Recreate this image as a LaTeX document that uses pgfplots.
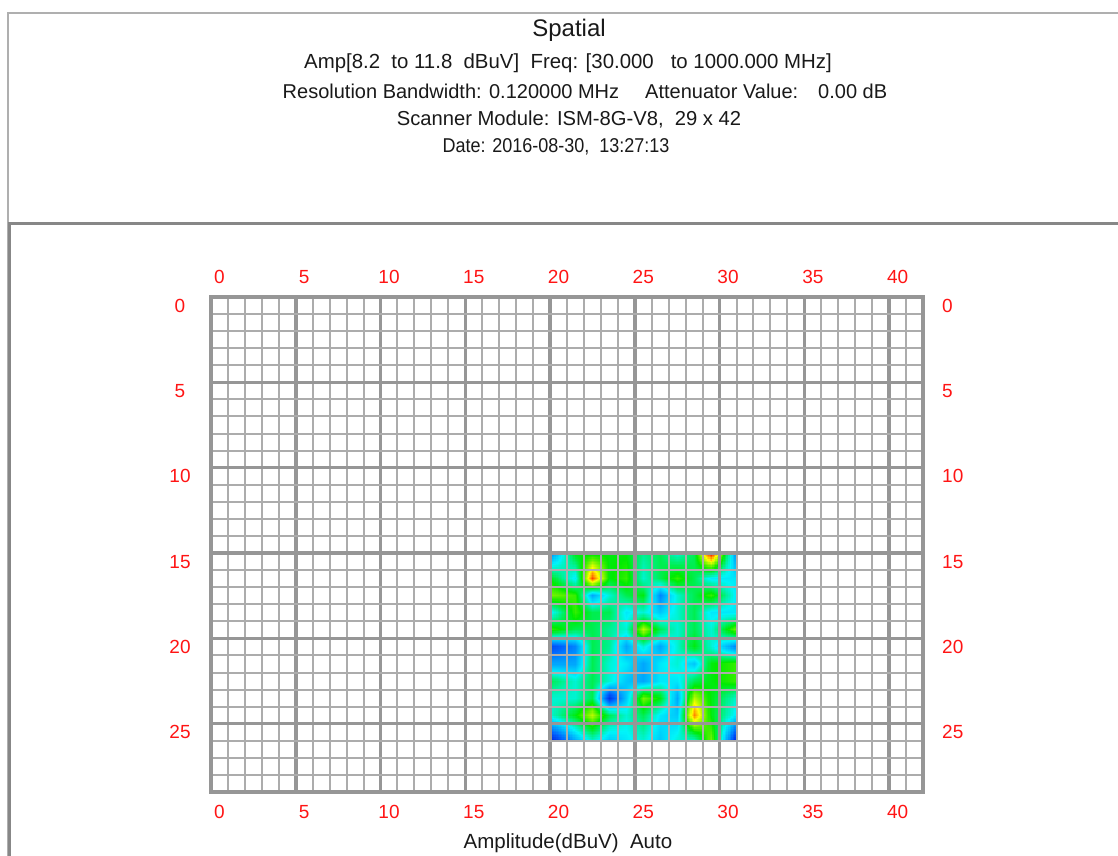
\documentclass[border=0pt]{standalone}
\usepackage{pgfplots}
\pgfplotsset{compat=1.18}
\usepgfplotslibrary{patchplots}
\usepackage{fontspec}
\setmainfont{Liberation Sans}
\definecolor{gthin}{RGB}{172,172,172}
\definecolor{gthick}{RGB}{150,150,150}
\definecolor{frameA}{RGB}{175,175,175}
\definecolor{frameB}{RGB}{135,135,135}
\definecolor{txt}{RGB}{25,25,25}
\definecolor{lab}{RGB}{255,20,20}
\begin{document}
\begin{tikzpicture}[x=1bp,y=1bp]
\path[use as bounding box] (0,0) rectangle (1118,856);
% frames
\draw[frameA, line width=2bp] (8,0) -- (8,843) -- (1118,843);
\draw[frameB, line width=3bp] (9.5,0) -- (9.5,632) -- (1118,632);
% titles
\node[txt, font=\fontsize{24bp}{26bp}\selectfont] at (569,826) {Spatial};
\node[txt, font=\fontsize{20.4bp}{22bp}\selectfont] at (568,793) {Amp[8.2~~to 11.8~~dBuV]~~Freq: [30.000~~~to 1000.000 MHz]};
\node[txt, font=\fontsize{20bp}{22bp}\selectfont] at (585,765) {Resolution Bandwidth: 0.120000 MHz\hspace{26bp}Attenuator Value:\hspace{20bp}0.00 dB};
\node[txt, font=\fontsize{20.2bp}{22bp}\selectfont] at (569,737) {Scanner Module: ISM-8G-V8,~~29 x 42};
\node[txt, font=\fontsize{20bp}{22bp}\selectfont, xscale=0.9] at (556,709) {Date: 2016-08-30,~~13:27:13};
\node[txt, font=\fontsize{20.5bp}{22bp}\selectfont] at (568,13) {Amplitude(dBuV)~~Auto};
% heat map + grid
\begin{axis}[at={(211bp,64bp)}, anchor=south west, scale only axis,
  width=712bp, height=495bp,
  xmin=0, xmax=42, ymin=0, ymax=29, y dir=reverse,
  xtick={5,10,...,40}, ytick={5,10,...,25},
  minor xtick={0,...,42}, minor ytick={0,...,29},
  xticklabels={}, yticklabels={},
  major tick length=0pt, minor tick length=0pt,
  grid=both,
  major grid style={line width=3.5bp, gthick},
  minor grid style={line width=2bp, gthin},
  axis line style={line width=3.5bp, gthick},
  axis on top,
  colormap={spat}{rgb255(0cm)=(0,0,205) rgb255(2cm)=(0,100,255) rgb255(4.2cm)=(0,245,250) rgb255(6.1cm)=(0,235,0) rgb255(8cm)=(255,255,0) rgb255(10cm)=(255,0,0)},
  point meta min=8.2, point meta max=11.8]
\addplot[surf, shader=interp, patch type=bilinear, mesh/cols=11, point meta=explicit]
  table[row sep=\\,
    x expr={ifthenelse(mod(\coordindex,11)==0,20,ifthenelse(mod(\coordindex,11)==10,31,20.5+mod(\coordindex,11)))},
    y expr={ifthenelse(floor(\coordindex/11)==0,15,ifthenelse(floor(\coordindex/11)==10,26,15.5+floor(\coordindex/11)))},
    meta=v] {
v\\
9.10\\ 10.36\\ 10.36\\ 10.36\\ 10.36\\ 10.00\\ 10.18\\ 9.82\\ 10.18\\ 11.80\\ 9.10\\
10.36\\ 9.64\\ 11.62\\ 10.36\\ 10.54\\ 9.82\\ 10.18\\ 10.54\\ 10.18\\ 9.64\\ 9.64\\
10.72\\ 10.54\\ 9.28\\ 9.82\\ 10.18\\ 10.36\\ 9.10\\ 9.82\\ 10.18\\ 10.54\\ 9.64\\
9.64\\ 10.54\\ 10.18\\ 10.18\\ 9.64\\ 9.82\\ 9.46\\ 9.82\\ 10.18\\ 9.64\\ 9.64\\
10.54\\ 10.18\\ 10.18\\ 10.00\\ 9.82\\ 10.90\\ 10.18\\ 9.82\\ 10.18\\ 9.82\\ 10.72\\
8.74\\ 9.10\\ 10.18\\ 10.00\\ 9.28\\ 9.82\\ 9.28\\ 9.82\\ 10.36\\ 9.82\\ 9.10\\
9.28\\ 9.28\\ 10.18\\ 9.82\\ 9.64\\ 9.28\\ 9.64\\ 9.82\\ 9.46\\ 10.36\\ 10.54\\
10.18\\ 9.82\\ 10.18\\ 9.82\\ 9.46\\ 9.28\\ 9.64\\ 9.64\\ 10.18\\ 10.36\\ 10.54\\
9.82\\ 9.82\\ 10.18\\ 8.56\\ 9.46\\ 10.72\\ 10.36\\ 9.28\\ 10.90\\ 10.36\\ 9.82\\
9.82\\ 10.36\\ 10.90\\ 10.18\\ 9.82\\ 10.18\\ 9.64\\ 9.46\\ 11.44\\ 10.36\\ 9.64\\
8.38\\ 9.28\\ 9.82\\ 9.46\\ 9.64\\ 9.82\\ 9.46\\ 9.82\\ 9.82\\ 10.72\\ 8.38\\
};
\end{axis}
% tick labels bottom/left
\begin{axis}[at={(211bp,64bp)}, anchor=south west, scale only axis,
  width=712bp, height=495bp,
  xmin=0, xmax=42, ymin=0, ymax=29, y dir=reverse,
  axis line style={draw=none}, major tick length=0pt,
  xtick={0.5,5.5,...,40.5}, xticklabels={0,5,10,15,20,25,30,35,40},
  ytick={0.5,5.5,...,25.5}, yticklabels={0,5,10,15,20,25},
  xticklabel pos=lower, yticklabel pos=left,
  ticklabel style={lab, font=\fontsize{19bp}{19bp}\selectfont, inner sep=0pt},
  xticklabel style={anchor=center, yshift=-20bp},
  yticklabel style={anchor=center, xshift=-31bp}]
\addplot[draw=none] coordinates {(0,0)};
\end{axis}
% tick labels top/right
\begin{axis}[at={(211bp,64bp)}, anchor=south west, scale only axis,
  width=712bp, height=495bp,
  xmin=0, xmax=42, ymin=0, ymax=29, y dir=reverse,
  axis line style={draw=none}, major tick length=0pt,
  xtick={0.5,5.5,...,40.5}, xticklabels={0,5,10,15,20,25,30,35,40},
  ytick={0.5,5.5,...,25.5}, yticklabels={0,5,10,15,20,25},
  xticklabel pos=upper, yticklabel pos=right,
  ticklabel style={lab, font=\fontsize{19bp}{19bp}\selectfont, inner sep=0pt},
  xticklabel style={anchor=center, yshift=20bp},
  yticklabel style={anchor=west, xshift=19bp}]
\addplot[draw=none] coordinates {(0,0)};
\end{axis}
\end{tikzpicture}
\end{document}
